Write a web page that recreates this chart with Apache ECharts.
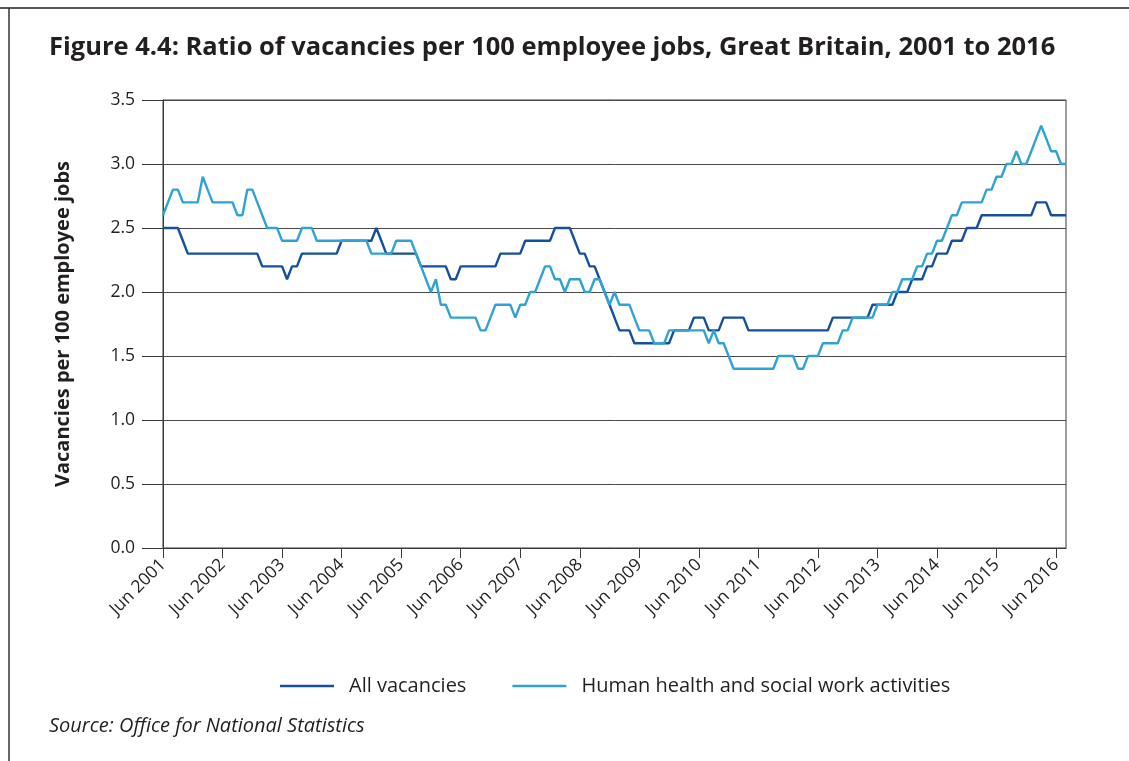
<!DOCTYPE html>
<html>
<head>
<meta charset="utf-8">
<script src="https://cdn.jsdelivr.net/npm/echarts@6/dist/echarts.min.js"></script>
<style>
  html, body { margin: 0; padding: 0; background: #fff; }
  #chart { width: 1129px; height: 761px; }
</style>
</head>
<body>
<div id="chart"></div>
<script>
/* data: monthly, Jun 2001 to Aug 2016 */
var monthNames = ['Jan','Feb','Mar','Apr','May','Jun','Jul','Aug','Sep','Oct','Nov','Dec'];
var months = [];
for (var i = 0; i < 183; i++) {
  var m = (5 + i) % 12;
  var y = 2001 + Math.floor((5 + i) / 12);
  months.push(monthNames[m] + ' ' + y);
}

var allVacancies = [
  2.5,2.5,2.5,2.5,2.4,2.3,2.3,                              // 2001 Jun-Dec
  2.3,2.3,2.3,2.3,2.3,2.3,2.3,2.3,2.3,2.3,2.3,2.3,          // 2002
  2.3,2.2,2.2,2.2,2.2,2.2,2.1,2.2,2.2,2.3,2.3,2.3,          // 2003
  2.3,2.3,2.3,2.3,2.3,2.4,2.4,2.4,2.4,2.4,2.4,2.4,          // 2004
  2.5,2.4,2.3,2.3,2.3,2.3,2.3,2.3,2.3,2.2,2.2,2.2,          // 2005
  2.2,2.2,2.2,2.1,2.1,2.2,2.2,2.2,2.2,2.2,2.2,2.2,          // 2006
  2.2,2.3,2.3,2.3,2.3,2.3,2.4,2.4,2.4,2.4,2.4,2.4,          // 2007
  2.5,2.5,2.5,2.5,2.4,2.3,2.3,2.2,2.2,2.1,2.0,1.9,          // 2008
  1.8,1.7,1.7,1.7,1.6,1.6,1.6,1.6,1.6,1.6,1.6,1.6,          // 2009
  1.7,1.7,1.7,1.7,1.8,1.8,1.8,1.7,1.7,1.7,1.8,1.8,          // 2010
  1.8,1.8,1.8,1.7,1.7,1.7,1.7,1.7,1.7,1.7,1.7,1.7,          // 2011
  1.7,1.7,1.7,1.7,1.7,1.7,1.7,1.7,1.8,1.8,1.8,1.8,          // 2012
  1.8,1.8,1.8,1.8,1.9,1.9,1.9,1.9,1.9,2.0,2.0,2.0,          // 2013
  2.1,2.1,2.1,2.2,2.2,2.3,2.3,2.3,2.4,2.4,2.4,2.5,          // 2014
  2.5,2.5,2.6,2.6,2.6,2.6,2.6,2.6,2.6,2.6,2.6,2.6,          // 2015
  2.6,2.7,2.7,2.7,2.6,2.6,2.6,2.6                           // 2016 Jan-Aug
];

var healthSocial = [
  2.6,2.7,2.8,2.8,2.7,2.7,2.7,                              // 2001 Jun-Dec
  2.7,2.9,2.8,2.7,2.7,2.7,2.7,2.7,2.6,2.6,2.8,2.8,          // 2002
  2.7,2.6,2.5,2.5,2.5,2.4,2.4,2.4,2.4,2.5,2.5,2.5,          // 2003
  2.4,2.4,2.4,2.4,2.4,2.4,2.4,2.4,2.4,2.4,2.4,2.3,          // 2004
  2.3,2.3,2.3,2.3,2.4,2.4,2.4,2.4,2.3,2.2,2.1,2.0,          // 2005
  2.1,1.9,1.9,1.8,1.8,1.8,1.8,1.8,1.8,1.7,1.7,1.8,          // 2006
  1.9,1.9,1.9,1.9,1.8,1.9,1.9,2.0,2.0,2.1,2.2,2.2,          // 2007
  2.1,2.1,2.0,2.1,2.1,2.1,2.0,2.0,2.1,2.1,2.0,1.9,          // 2008
  2.0,1.9,1.9,1.9,1.8,1.7,1.7,1.7,1.6,1.6,1.6,1.7,          // 2009
  1.7,1.7,1.7,1.7,1.7,1.7,1.7,1.6,1.7,1.6,1.6,1.5,          // 2010
  1.4,1.4,1.4,1.4,1.4,1.4,1.4,1.4,1.4,1.5,1.5,1.5,          // 2011
  1.5,1.4,1.4,1.5,1.5,1.5,1.6,1.6,1.6,1.6,1.7,1.7,          // 2012
  1.8,1.8,1.8,1.8,1.8,1.9,1.9,1.9,2.0,2.0,2.1,2.1,          // 2013
  2.1,2.2,2.2,2.3,2.3,2.4,2.4,2.5,2.6,2.6,2.7,2.7,          // 2014
  2.7,2.7,2.7,2.8,2.8,2.9,2.9,3.0,3.0,3.1,3.0,3.0,          // 2015
  3.1,3.2,3.3,3.2,3.1,3.1,3.0,3.0                           // 2016 Jan-Aug
];

var seriesNames = ['All vacancies', 'Human health and social work activities'];
var seriesColors = ['#14509e', '#2fa2d6'];

var txtFont = '"Open Sans", "Noto Sans", sans-serif';

var myChart = echarts.init(document.getElementById('chart'), null, { renderer: 'canvas' });

var option = {
  backgroundColor: '#ffffff',
  animation: false,
  title: [
    {
      text: 'Figure 4.4: Ratio of vacancies per 100 employee jobs, Great Britain, 2001 to 2016',
      left: 44,
      top: 30,
      textStyle: { fontFamily: txtFont, fontSize: 25.5, fontWeight: 'bold', color: '#231f20' }
    },
    {
      text: 'Source: Office for National Statistics',
      left: 44,
      top: 711,
      textStyle: { fontFamily: txtFont, fontSize: 20, fontWeight: 'normal', fontStyle: 'italic', color: '#231f20' }
    }
  ],
  legend: {
    data: seriesNames,
    left: 275,
    top: 671,
    itemWidth: 54,
    itemHeight: 20,
    itemGap: 46,
    icon: 'path://M0,0 L54,0 L54,2.4 L0,2.4 Z',
    textStyle: { fontFamily: txtFont, fontSize: 20, color: '#231f20', padding: [0, 0, 0, 10] }
  },
  grid: {
    left: 163,
    right: 63,
    top: 100,
    bottom: 213,
    show: true,
    borderColor: '#3a3a3a',
    borderWidth: 1
  },
  xAxis: {
    type: 'category',
    data: months,
    boundaryGap: false,
    axisLine: { lineStyle: { color: '#3a3a3a', width: 1 } },
    axisTick: {
      length: 10,
      interval: function (idx) { return idx % 12 === 0; },
      lineStyle: { color: '#3a3a3a' }
    },
    axisLabel: {
      interval: function (idx) { return idx % 12 === 0; },
      rotate: 45,
      margin: 14,
      fontFamily: txtFont,
      fontSize: 17.5,
      color: '#231f20'
    },
    splitLine: { show: false }
  },
  yAxis: {
    type: 'value',
    min: 0,
    max: 3.5,
    interval: 0.5,
    name: 'Vacancies per 100 employee jobs',
    nameLocation: 'middle',
    nameRotate: 90,
    nameGap: 90,
    nameTextStyle: { fontFamily: txtFont, fontSize: 20, fontWeight: 'bold', color: '#231f20' },
    axisLine: { show: true, lineStyle: { color: '#3a3a3a', width: 1 } },
    axisTick: { show: true, length: 21, lineStyle: { color: '#3a3a3a' } },
    axisLabel: {
      margin: 28,
      fontFamily: txtFont,
      fontSize: 17.5,
      color: '#231f20',
      formatter: function (v) { return v.toFixed(1); }
    },
    splitLine: { lineStyle: { color: '#4a4a4a', width: 1 } }
  },
  series: [
    {
      name: seriesNames[0],
      type: 'line',
      data: allVacancies,
      symbol: 'none',
      color: seriesColors[0],
      lineStyle: { width: 2.4, color: seriesColors[0] }
    },
    {
      name: seriesNames[1],
      type: 'line',
      data: healthSocial,
      symbol: 'none',
      color: seriesColors[1],
      lineStyle: { width: 2.4, color: seriesColors[1] }
    }
  ],
  graphic: [
    { type: 'line', shape: { x1: 0, y1: 8, x2: 1129, y2: 8 }, style: { stroke: '#555', lineWidth: 2 } },
    { type: 'line', shape: { x1: 9, y1: 8, x2: 9, y2: 761 }, style: { stroke: '#333', lineWidth: 1.5 } }
  ]
};

myChart.setOption(option);
</script>
</body>
</html>
